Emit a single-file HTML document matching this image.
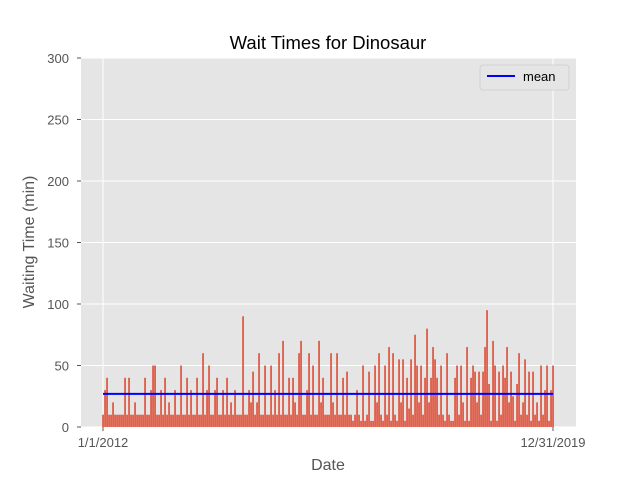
<!DOCTYPE html>
<html><head><meta charset="utf-8"><style>
body{margin:0;background:#fff}
svg{font-family:"Liberation Sans","DejaVu Sans",sans-serif}
</style></head><body>
<svg id="c" width="640" height="480">
<rect x="0" y="0" width="640" height="480" fill="#fff"/>
<rect x="81" y="58" width="495" height="369" fill="#E5E5E5"/>
<g id="grid"></g><g id="bars"></g><g id="axes"></g>
<text x="328" y="49" text-anchor="middle" font-size="18.5" fill="#000">Wait Times for Dinosaur</text>
<text x="328" y="470" text-anchor="middle" font-size="16" fill="#555">Date</text>
<text transform="translate(34,242) rotate(-90)" text-anchor="middle" font-size="16" fill="#555">Waiting Time (min)</text>
<g>
<rect x="480" y="65" width="89" height="25" rx="3" fill="#E5E5E5" stroke="#ccc" stroke-width="0.8"/>
<line x1="487" y1="76" x2="515" y2="76" stroke="#0000FF" stroke-width="2"/>
<text x="523" y="81" font-size="13" fill="#000">mean</text>
</g>
</svg>
<script>
const xTickLabels = ["1/1/2012","12/31/2019"];
const yTicks = [0,50,100,150,200,250,300];
const waitTimes = [
10,30,40,10,10,20,10,10,10,10,
10,40,10,40,10,10,20,10,10,10,
10,40,10,10,30,50,50,10,10,30,
10,40,10,20,10,10,30,10,10,50,
10,10,40,10,30,10,10,40,10,10,
60,10,30,50,10,10,30,40,10,10,
30,10,40,10,20,10,30,10,10,10,
90,10,10,30,20,45,10,20,60,10,
10,50,10,10,50,10,30,10,60,10,
70,10,10,40,10,40,20,10,60,70,
10,10,30,60,10,50,10,10,70,20,
40,10,10,10,60,20,10,60,10,10,
40,10,45,10,10,5,10,30,10,5,
50,5,10,45,5,5,50,20,60,10,
5,50,10,65,5,60,10,5,55,20,
55,5,40,15,55,10,75,50,20,50,
10,40,80,20,40,65,55,40,10,50,
10,5,60,10,5,5,40,50,10,50,
20,5,65,5,40,50,45,20,45,10,
45,65,95,35,5,70,50,5,45,10,
50,40,65,20,45,25,5,35,60,10,
20,55,10,45,5,45,10,20,5,50,
10,30,50,5,30,50];
const NS="http://www.w3.org/2000/svg";
const n=waitTimes.length;
function xs(i){return 103+i*450/(n-1);}
function ys(v){return 427-v*369/300;}
const grid=document.getElementById('grid'),bars=document.getElementById('bars'),axes=document.getElementById('axes');
function mk(tag,attrs,parent){const e=document.createElementNS(NS,tag);for(const k in attrs)e.setAttribute(k,attrs[k]);parent.appendChild(e);return e;}
yTicks.forEach(t=>{
  const g=mk('line',{x1:81,x2:576,y1:ys(t),y2:ys(t),stroke:'#fff','stroke-width':1},grid);
  
  
  const tk=mk('line',{x1:77,x2:81,y1:ys(t),y2:ys(t),stroke:'#555'},axes);
  
  
  const tx=mk('text',{x:69,y:ys(t)+5,'text-anchor':'end','font-size':13,fill:'#555'},axes);
  tx.textContent=t;
  
  
});
[0,n-1].forEach((i,k)=>{
  const g=mk('line',{x1:xs(i),x2:xs(i),y1:58,y2:427,stroke:'#fff'},grid);
  
  
  const tk=mk('line',{x1:xs(i),x2:xs(i),y1:427,y2:431,stroke:'#555'},axes);
  
  
  const tx=mk('text',{x:xs(i),y:447,'text-anchor':'middle','font-size':13,fill:'#555'},axes);
  tx.textContent=xTickLabels[k];
  
  
});
waitTimes.forEach((v,i)=>{
  const b=mk('rect',{x:xs(i)-0.75,y:ys(v),width:1.6,height:427-ys(v),fill:'#E24A33'},bars);
  
  
});
const mean=waitTimes.reduce((a,b)=>a+b,0)/n;
const ml=mk('line',{x1:xs(0),x2:xs(n-1),y1:ys(mean),y2:ys(mean),stroke:'#0000FF','stroke-width':2},bars);


</script>
</body></html>
